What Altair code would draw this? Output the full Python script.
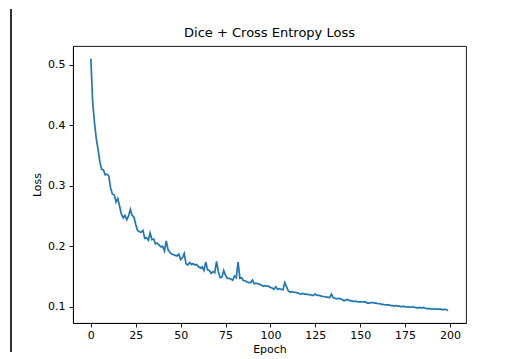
import altair as alt
import pandas as pd

epochs = list(range(200))
loss = [
    0.510, 0.438, 0.405, 0.378, 0.360, 0.340, 0.327, 0.326, 0.318, 0.319,
    0.316, 0.296, 0.286, 0.285, 0.273, 0.279, 0.266, 0.253, 0.247, 0.251,
    0.244, 0.250, 0.261, 0.251, 0.248, 0.236, 0.226, 0.224, 0.223, 0.226,
    0.213, 0.214, 0.210, 0.222, 0.211, 0.212, 0.204, 0.205, 0.202, 0.199,
    0.200, 0.192, 0.209, 0.194, 0.190, 0.187, 0.186, 0.185, 0.184, 0.187,
    0.178, 0.181, 0.188, 0.171, 0.169, 0.173, 0.170, 0.171, 0.169, 0.170,
    0.166, 0.164, 0.166, 0.160, 0.174, 0.161, 0.160, 0.155, 0.158, 0.156,
    0.175, 0.158, 0.148, 0.149, 0.160, 0.152, 0.147, 0.147, 0.146, 0.144,
    0.151, 0.148, 0.174, 0.147, 0.148, 0.143, 0.143, 0.141, 0.140, 0.140,
    0.144, 0.138, 0.139, 0.138, 0.137, 0.136, 0.134, 0.135, 0.134, 0.134,
    0.132, 0.131, 0.129, 0.133, 0.129, 0.130, 0.129, 0.128, 0.140, 0.133,
    0.126, 0.124, 0.125, 0.124, 0.124, 0.123, 0.122, 0.121, 0.122, 0.121,
    0.121, 0.120, 0.120, 0.119, 0.119, 0.121, 0.119, 0.119, 0.118, 0.117,
    0.117, 0.116, 0.116, 0.115, 0.121, 0.115, 0.114, 0.113, 0.114, 0.113,
    0.112, 0.110, 0.111, 0.112, 0.110, 0.110, 0.109, 0.109, 0.109, 0.108,
    0.108, 0.108, 0.108, 0.108, 0.106, 0.106, 0.107, 0.107, 0.106, 0.106,
    0.105, 0.105, 0.104, 0.104, 0.103, 0.103, 0.103, 0.102, 0.102, 0.101,
    0.102, 0.101, 0.101, 0.100, 0.101, 0.100, 0.100, 0.100, 0.099, 0.100,
    0.099, 0.099, 0.098, 0.099, 0.098, 0.099, 0.098, 0.097, 0.097, 0.097,
    0.096, 0.097, 0.096, 0.096, 0.096, 0.096, 0.095, 0.096, 0.095, 0.094,
]
x_ticks = [0, 25, 50, 75, 100, 125, 150, 175, 200]
y_ticks = [0.1, 0.2, 0.3, 0.4, 0.5]

df = pd.DataFrame({"Epoch": epochs, "Loss": loss})

FONT = "DejaVu Sans"

line = alt.Chart(df).mark_line(color="#1f77b4", strokeWidth=1.7).encode(
    x=alt.X(
        "Epoch:Q",
        scale=alt.Scale(domain=[-9.95, 208.95], nice=False, zero=False),
        axis=alt.Axis(values=x_ticks, format="d", title="Epoch", grid=False,
                      tickSize=4, labelPadding=2, titlePadding=3),
    ),
    y=alt.Y(
        "Loss:Q",
        scale=alt.Scale(domain=[0.0732, 0.5308], nice=False, zero=False),
        axis=alt.Axis(values=y_ticks, format=".1f", title="Loss", grid=False,
                      tickSize=4, labelPadding=4, titlePadding=5),
    ),
)

frame = alt.Chart(df).mark_rule(color="#333333", strokeWidth=1).encode(
    x=alt.value(-62), y=alt.value(-37), y2=alt.value(306)
)

chart = (
    alt.layer(frame, line)
    .properties(
        width=393,
        height=277,
        title=alt.TitleParams("Dice + Cross Entropy Loss", fontSize=13, font=FONT,
                              fontWeight="normal", color="black", offset=-31,
                              frame="group"),
        padding={"left": 2, "top": 0, "right": 5, "bottom": 5},
    )
    .configure_view(stroke="black", strokeWidth=0.9)
    .configure_axis(
        labelFont=FONT, titleFont=FONT, labelFontSize=11, titleFontSize=11,
        labelColor="black", titleColor="black", titleFontWeight="normal",
        domainColor="black", tickColor="black", domainWidth=0.9, tickWidth=0.9,
    )
)

chart.save("out.html", embed_options={"renderer": "svg", "actions": False})
